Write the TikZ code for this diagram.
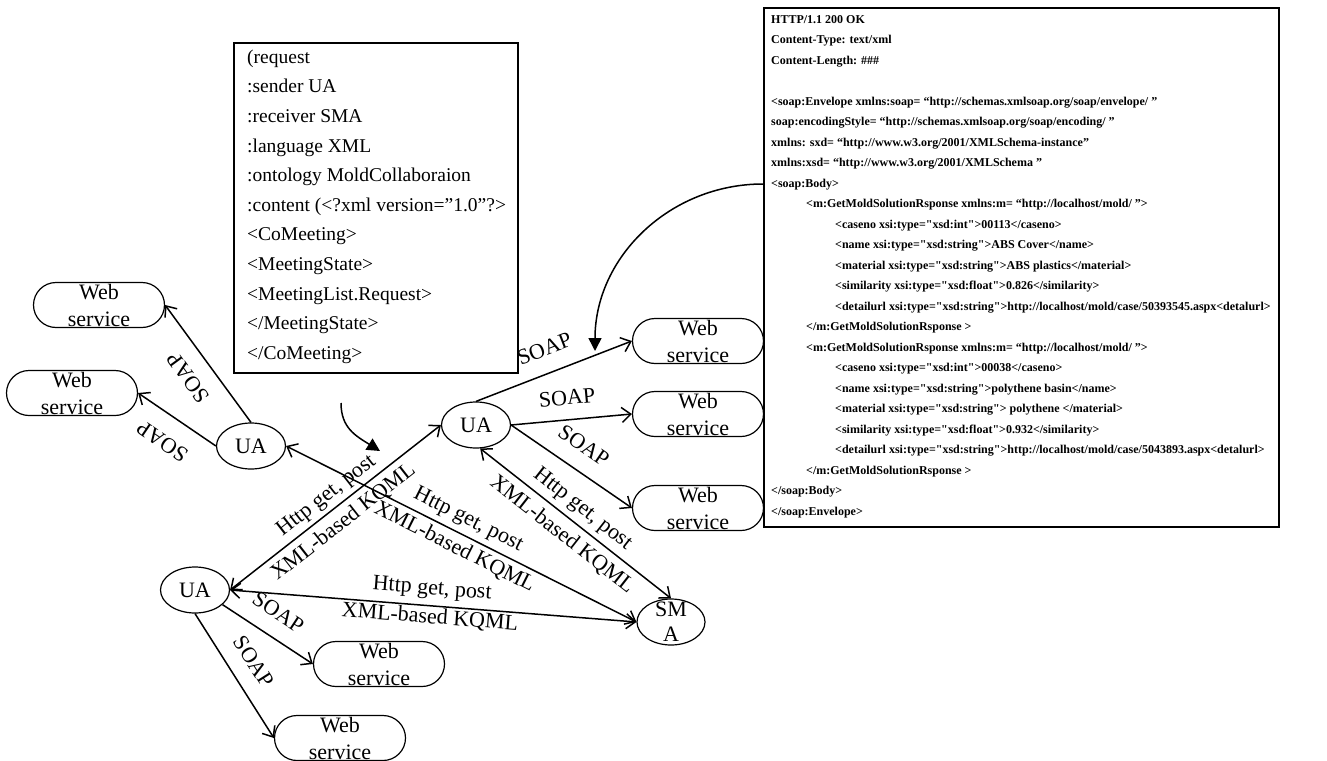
\documentclass[tikz,border=0pt]{standalone}
\usepackage{fontspec}
\setmainfont{Liberation Serif}[Ligatures=TeXOff]
\usetikzlibrary{arrows.meta,shapes.geometric,shapes.misc}

\begin{document}
\begin{tikzpicture}[x=1pt,y=-1pt,
  every node/.style={inner sep=0pt},
  font=\fontsize{22}{27}\selectfont,
  ws/.style={draw, line width=1.2pt, rounded rectangle, minimum width=131pt,
    minimum height=45pt, align=center},
  agent/.style={draw, line width=1.2pt, ellipse, minimum width=69pt, minimum height=46pt},
  barb/.tip={Straight Barb[length=9pt,width=15pt]},
  link/.style={line width=1.5pt, -barb},
  dlink/.style={line width=1.5pt, barb-barb},
  lab/.style={sloped, font=\fontsize{22}{22}\selectfont},
  hint/.style={line width=1.5pt, -{Triangle[length=13pt,width=13pt]}},
  msgbox/.style={draw, line width=2pt, anchor=north west},
]
\useasboundingbox (0,0) rectangle (1327,760);

% agents and web services
\node[ws] (ws1) at (99,305) {Web\\service};
\node[ws] (ws2) at (72,393) {Web\\service};
\node[agent] (ua1) at (251,446) {UA};
\node[agent] (ua2) at (476,425) {UA};
\node[agent] (ua3) at (195,590) {UA};
\node[agent, minimum width=68pt,
  label={[align=center, font=\fontsize{22}{25}\selectfont]center:SM\\A}] (sma) at (671,622) {};
\node[ws] (wsr1) at (698,341) {Web\\service};
\node[ws] (wsr2) at (698,414) {Web\\service};
\node[ws] (wsr3) at (698,508) {Web\\service};
\node[ws] (wsb1) at (379,664) {Web\\service};
\node[ws] (wsb2) at (340,738) {Web\\service};

% SOAP calls
\draw[link] (ua1.north) -- node[lab, allow upside down, above=16pt] (s1) {SOAP} (ws1.east);
\draw[link] (ua1.west) -- node[lab, allow upside down, above=18pt] (s2) {SOAP} (ws2.east);
\draw[link] (ua2.north) -- node[lab, pos=.495, above=16pt] (s3) {SOAP} (wsr1.west);
\draw[link] (ua2.east) -- node[lab, pos=.48, above=14pt] (s4) {SOAP} (wsr2.west);
\draw[link] (ua2.east) -- node[lab, pos=.49, above=16pt] (s5) {SOAP} (wsr3.west);
\draw[link] (ua3.-28) -- node[lab, pos=.47, above=16pt] (s6) {SOAP} (wsb1.west);
\draw[link] (ua3.south) -- node[lab, pos=.49, above=16pt] (s7) {SOAP} (wsb2.west);

% KQML messages between agents
\draw[dlink] (ua3.east) -- node[lab, pos=.5, above=4pt] (h1) {Http get, post}
  node[lab, pos=.49, below=6pt] (k1) {XML-based KQML} (ua2.west);
\draw[dlink] (ua1.east) -- node[lab, pos=.5, above=5pt] (h2) {Http get, post}
  node[lab, pos=.5, below=4.5pt] (k2) {XML-based KQML} (sma.west);
\draw[dlink] (ua3.east) -- node[lab, pos=.494, above=6pt] (h3) {Http get, post}
  node[lab, pos=.494, below=1.5pt] (k3) {XML-based KQML} (sma.west);
\draw[dlink] (ua2.-80) -- node[lab, pos=.486, above=5pt] (h4) {Http get, post}
  node[lab, pos=.485, below=7pt] (k4) {XML-based KQML} (sma.north);

% KQML request
\node[msgbox, minimum width=284pt, minimum height=330pt] (req) at (233,42) {};
\node[anchor=north west, align=left, font=\fontsize{19.5}{29.6}\selectfont] (reqtext) at (247,49.5)
{(request\\
:sender UA\\
:receiver SMA\\
:language XML\\
:ontology MoldCollaboraion\\
:content (<?xml version=”1.0”?>\\
<CoMeeting>\\
<MeetingState>\\
<MeetingList.Request>\\
</MeetingState>\\
</CoMeeting>};

% SOAP response
\node[msgbox, minimum width=515pt, minimum height=519pt] (resp) at (763,7) {};
\node[anchor=north west, align=left, font=\fontsize{12}{20.5}\selectfont\bfseries] (resptext) at (771,15)
{HTTP/1.1 200 OK\\
Content-Type: text/xml\\
Content-Length: \#\#\#\\[20.5pt]
<soap:Envelope xmlns:soap= “http://schemas.xmlsoap.org/soap/envelope/ ”\\
soap:encodingStyle= “http://schemas.xmlsoap.org/soap/encoding/ ”\\
xmlns: sxd= “http://www.w3.org/2001/XMLSchema-instance”\\
xmlns:xsd= “http://www.w3.org/2001/XMLSchema ”\\
<soap:Body>\\
\hspace*{35pt}<m:GetMoldSolutionRsponse xmlns:m= “http://localhost/mold/ ”>\\
\hspace*{64pt}<caseno xsi:type="xsd:int">00113</caseno>\\
\hspace*{64pt}<name xsi:type="xsd:string">ABS Cover</name>\\
\hspace*{64pt}<material xsi:type="xsd:string">ABS plastics</material>\\
\hspace*{64pt}<similarity xsi:type="xsd:float">0.826</similarity>\\
\hspace*{64pt}<detailurl xsi:type="xsd:string">http://localhost/mold/case/50393545.aspx<detalurl>\\
\hspace*{35pt}</m:GetMoldSolutionRsponse >\\
\hspace*{35pt}<m:GetMoldSolutionRsponse xmlns:m= “http://localhost/mold/ ”>\\
\hspace*{64pt}<caseno xsi:type="xsd:int">00038</caseno>\\
\hspace*{64pt}<name xsi:type="xsd:string">polythene basin</name>\\
\hspace*{64pt}<material xsi:type="xsd:string"> polythene </material>\\
\hspace*{64pt}<similarity xsi:type="xsd:float">0.932</similarity>\\
\hspace*{64pt}<detailurl xsi:type="xsd:string">http://localhost/mold/case/5043893.aspx<detalurl>\\
\hspace*{35pt}</m:GetMoldSolutionRsponse >\\
</soap:Body>\\
</soap:Envelope>};

% pointers from the messages to the links they travel on
\coordinate (bodytag) at (763,184);
\coordinate (soaptarget) at (595,351);
\draw[hint] (bodytag) .. controls (670,184) and (595,257) .. (soaptarget);
\coordinate (hintstart) at (341,403);
\coordinate (hintend) at (380,451);
\draw[hint] (hintstart) .. controls (341,428) and (356,436) .. (hintend);
\end{tikzpicture}
\end{document}
